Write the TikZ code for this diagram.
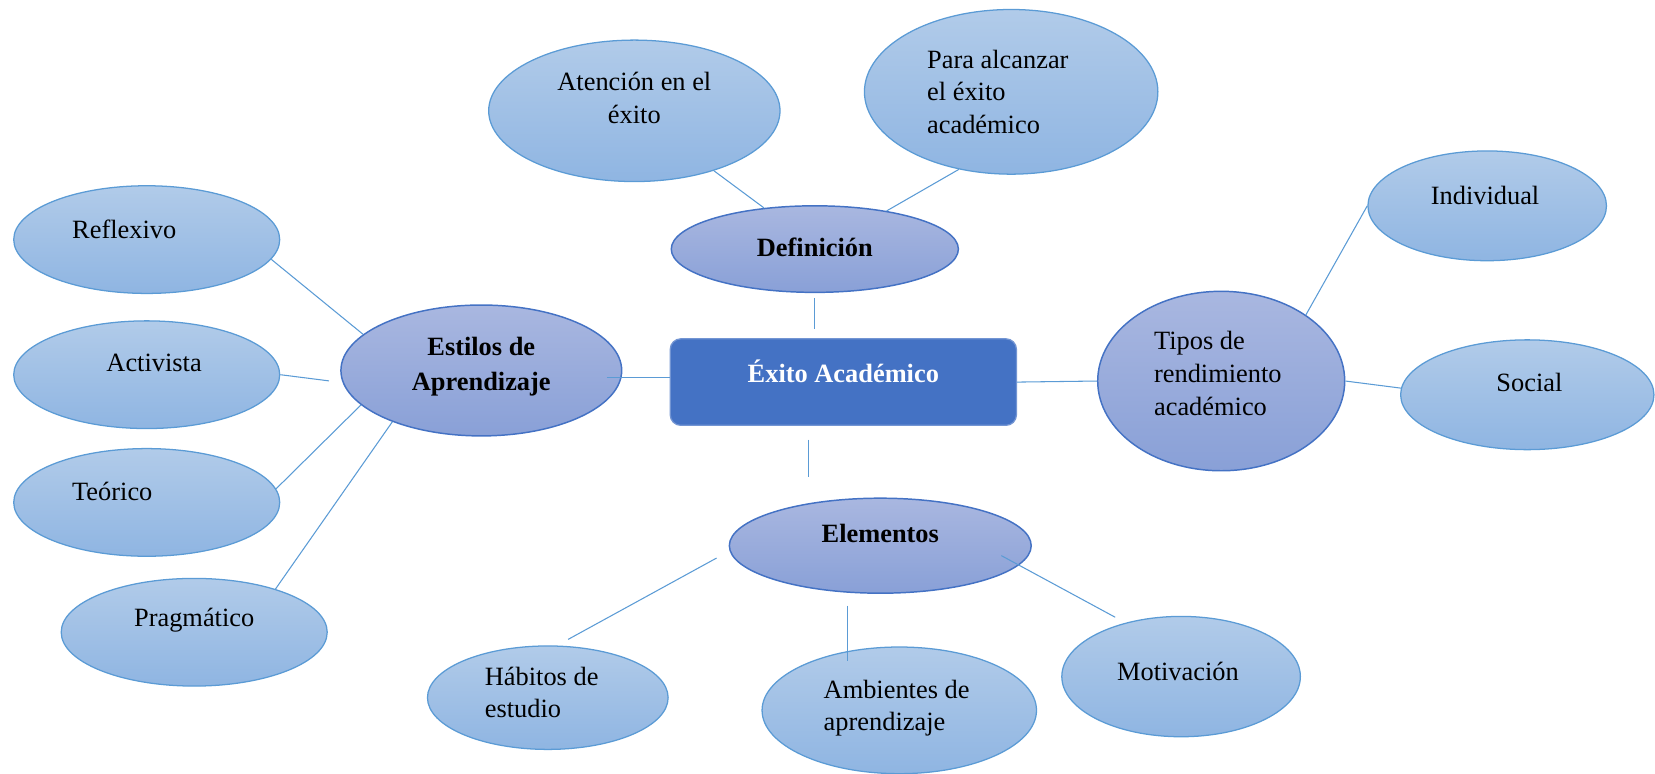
\documentclass[tikz,border=0pt]{standalone}
\usepackage{fontspec}
\setmainfont{Liberation Serif}
\usepackage{tikz}
\usetikzlibrary{shapes.geometric}
\usetikzlibrary{calc}

\definecolor{lineblue}{HTML}{5B9BD5}
\definecolor{darkline}{HTML}{4472C4}
\definecolor{lighttop}{HTML}{B1CBE9}
\definecolor{lightbot}{HTML}{8FB5E2}
\definecolor{darktop}{HTML}{A9B7E0}
\definecolor{darkbot}{HTML}{89A0D7}
\definecolor{hubblue}{HTML}{4472C4}

\begin{document}
\begin{tikzpicture}[
        x=0.5pt, y=-0.5pt,
        light/.style={ellipse, draw=lineblue, line width=0.6pt, top color=lighttop, bottom color=lightbot, inner sep=0pt},
        dark/.style={ellipse, draw=darkline, line width=0.7pt, top color=darktop, bottom color=darkbot, inner sep=0pt},
        hub/.style={rectangle, rounded corners=5pt, draw=hubblue!75!white, line width=0.6pt, fill=hubblue, minimum width=164pt, minimum height=41pt, inner sep=0pt},
        link/.style={draw=lineblue, line width=0.5pt},
        txt/.style={font=\fontsize{12.5}{15.5}\selectfont, inner sep=0pt}
    ]

    \useasboundingbox (0,0) rectangle (1568,733);

    %=== Bubble Macro ===%
    % name, style, centre, width, height, text position, text options, text
    \newcommand{\bubble}[8]{
        \node[#2, minimum width=#4, minimum height=#5] (#1) at (#3) {};
        \node[txt, #7] (#1-txt) at (#6) {#8};
    }

    % centre
    \node[hub] (exito) at (799,362) {};
    \node[txt, text=white, font=\fontsize{12.5}{15.5}\selectfont\bfseries] (exito-txt) at (799,352) {Éxito Académico};

    %=== BUBBLES ===%
    \bubble{def}{dark}{772,236}{136pt}{41pt}{772,234}{font=\fontsize{12.5}{15.5}\selectfont\bfseries}{Definición};
    \bubble{atencion}{light}{601,105}{138pt}{67pt}{601,93}{align=center}{Atención en el\\éxito};
    \bubble{alcanzar}{light}{958,87}{139pt}{78pt}{878,87}{anchor=west, align=left}{Para alcanzar\\el éxito\\académico};

    \bubble{estilos}{dark}{456,351}{133pt}{62pt}{456,347}{align=center, font=\fontsize{12.5}{16.5}\selectfont\bfseries}{Estilos de\\Aprendizaje};
    \bubble{reflexivo}{light}{139,227}{126pt}{51pt}{68,217}{anchor=west}{Reflexivo};
    \bubble{activista}{light}{139,355}{126pt}{51pt}{146,344}{}{Activista};
    \bubble{teorico}{light}{139,476}{126pt}{51pt}{68,466}{anchor=west}{Teórico};
    \bubble{pragmatico}{light}{184,599}{126pt}{51pt}{184,588}{}{Pragmático};

    \bubble{tipos}{dark}{1157,361}{117pt}{85pt}{1093,354}{anchor=west, align=left}{Tipos de\\rendimiento\\académico};
    \bubble{individual}{light}{1409,195}{113pt}{52pt}{1407,185}{}{Individual};
    \bubble{social}{light}{1447,374}{120pt}{52pt}{1449,362}{}{Social};

    \bubble{elem}{dark}{834,517}{143pt}{45pt}{834,505}{font=\fontsize{12.5}{15.5}\selectfont\bfseries}{Elementos};
    \bubble{habitos}{light}{519,661}{114pt}{49pt}{459,656}{anchor=west, align=left}{Hábitos de\\estudio};
    \bubble{ambientes}{light}{852,673}{130pt}{60pt}{780,671}{anchor=west, align=left}{Ambientes de\\aprendizaje};
    \bubble{motivacion}{light}{1119,641}{113pt}{57pt}{1116,636}{}{Motivación};

    %=== LINKS ===%
    \draw[link] (atencion.-37) -- (def.141);
    \draw[link] (alcanzar.236) -- (def.28);
    \draw[link, shorten <=2.5pt, shorten >=4.5pt] (def.south) -- (def.south |- exito.north);

    \draw[link, shorten <=-7pt] (estilos.-3) -- (estilos.-3 -| exito.west);
    \draw[link] (reflexivo.-9) -- (estilos.163);
    \draw[link, shorten >=6.5pt] (activista.east) -- (estilos.185);
    \draw[link] (teorico.6) -- (estilos.196);
    \draw[link] (pragmatico.28) -- (estilos.210);

    \draw[link] (exito.east) -- (tipos.west);
    \draw[link] (tipos.38) -- (individual.west);
    \draw[link] (tipos.east) -- (social.177);

    \draw[link, shorten <=6.5pt, shorten >=9.5pt] ([xshift=-16.5pt]exito.south) -- ([xshift=-16.5pt]exito.south |- elem.north);
    \draw[link, shorten <=7pt, shorten >=6pt] (elem.182) -- (habitos.80);
    \draw[link, shorten <=5.5pt, shorten >=-7pt] ([xshift=-15.5pt]elem.south) -- ([xshift=-15.5pt]elem.south |- ambientes.north);
    \draw[link, shorten <=-9.5pt, shorten >=5.5pt] (elem.-8) -- (motivacion.136);

\end{tikzpicture}
\end{document}
